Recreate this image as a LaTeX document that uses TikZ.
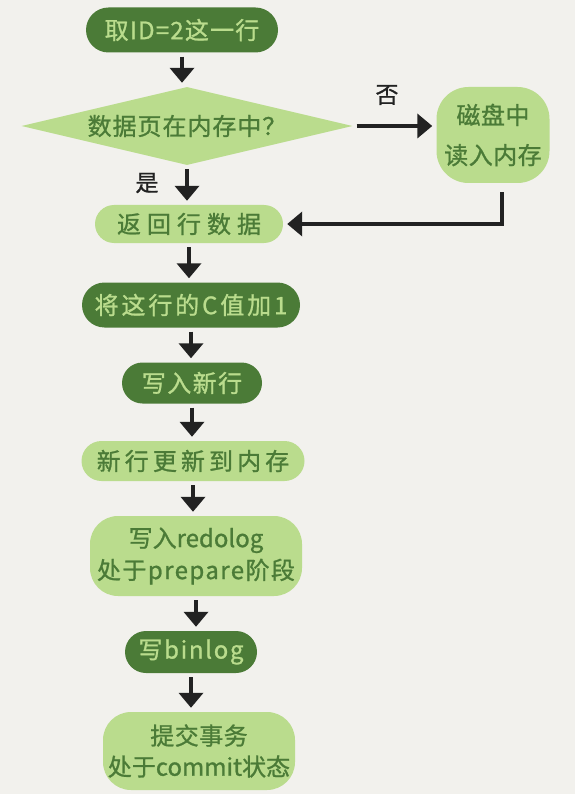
\documentclass[tikz,border=0pt]{standalone}
\usepackage{fontspec}
\setmainfont{Noto Sans CJK SC}[FakeBold=1]
\usetikzlibrary{shapes.geometric,shapes.misc,arrows.meta}

\definecolor{paper}{HTML}{F2F1ED}
\definecolor{leaf}{HTML}{4B7B37}
\definecolor{sprout}{HTML}{BADC8D}
\definecolor{ink}{HTML}{222222}

% hand-lettered look: large text with a little extra tracking
\newcommand\stepfont[2]{\fontsize{24pt}{#1}\selectfont\addfontfeature{LetterSpace=#2}}

\tikzset{
  darkpill/.style={rounded rectangle, fill=leaf, text=sprout, inner sep=0pt},
  lightpill/.style={rounded rectangle, fill=sprout, text=leaf, inner sep=0pt},
  lightblob/.style={rectangle, rounded corners=28pt, fill=sprout, text=leaf,
    inner sep=0pt, align=center},
  decision/.style={diamond, fill=sprout, inner sep=0pt},
  flow/.style={draw=ink, line width=4pt, -{Triangle[width=24pt,length=15pt]},
    shorten <=4pt, shorten >=4pt},
  tag/.style={text=ink, font=\fontsize{23pt}{26pt}\selectfont},
}

\begin{document}
\begin{tikzpicture}[x=1pt,y=-1pt]
  \fill[paper] (0,0) rectangle (575,794);
  \useasboundingbox (0,0) rectangle (575,794);

  % steps of the update
  \node[darkpill, minimum width=192pt, minimum height=45pt, font=\stepfont{28pt}{5}]
    (fetch) at (182,30) {取ID=2这一行};
  \node[decision, minimum width=331pt, minimum height=78pt,
        label={[text=leaf, font=\stepfont{28pt}{4}]center:数据页在内存中？}] (inmem) at (187,126) {};
  \node[lightblob, minimum width=113pt, minimum height=96pt, rounded corners=32pt,
        font=\stepfont{40pt}{2}] (disk) at (493,135) {磁盘中\\读入内存};
  \node[lightpill, minimum width=188pt, minimum height=38pt, font=\stepfont{28pt}{25}]
    (rowdata) at (189,224) {返回行数据};
  \node[darkpill, minimum width=218pt, minimum height=45pt, font=\stepfont{28pt}{12}]
    (incr) at (191,305) {将这行的C值加1};
  \node[darkpill, minimum width=140pt, minimum height=41pt, font=\stepfont{28pt}{6}]
    (newrow) at (192,383) {写入新行};
  \node[lightpill, minimum width=223pt, minimum height=40pt, font=\stepfont{28pt}{17}]
    (update) at (193,461) {新行更新到内存};
  \node[lightblob, minimum width=212pt, minimum height=80pt, font=\stepfont{32pt}{0}]
    (redo) at (196,556) {写入redolog\\\addfontfeature{LetterSpace=6}处于prepare阶段};
  \node[darkpill, minimum width=132pt, minimum height=42pt, font=\stepfont{28pt}{7}]
    (binlog) at (191,652) {写binlog};
  \node[lightblob, minimum width=192pt, minimum height=78pt, font=\stepfont{31pt}{0}]
    (commit) at (199,751) {\addfontfeature{LetterSpace=2}提交事务\\处于commit状态};

  % branch labels
  \node[tag] (yes) at (147,183) {是};
  \node[tag] (no) at (387,95) {否};

  % connectors
  \draw[flow] (fetch.south) -- (fetch.south |- inmem.north);
  \draw[flow] (inmem.south) -- (inmem.south |- rowdata.north);
  \draw[flow] (inmem.east) -- (disk.west |- inmem.east);
  \draw[flow, shorten <=0pt] ([xshift=9pt,yshift=-9pt]disk.south) |- (rowdata.east);
  \draw[flow] (rowdata.south) -- (rowdata.south |- incr.north);
  \draw[flow] (incr.south) -- (incr.south |- newrow.north);
  \draw[flow] (newrow.south) -- (newrow.south |- update.north);
  \draw[flow] (update.south) -- (update.south |- redo.north);
  \draw[flow] (redo.south) -- (redo.south |- binlog.north);
  \draw[flow] (binlog.south) -- (binlog.south |- commit.north);
\end{tikzpicture}
\end{document}
